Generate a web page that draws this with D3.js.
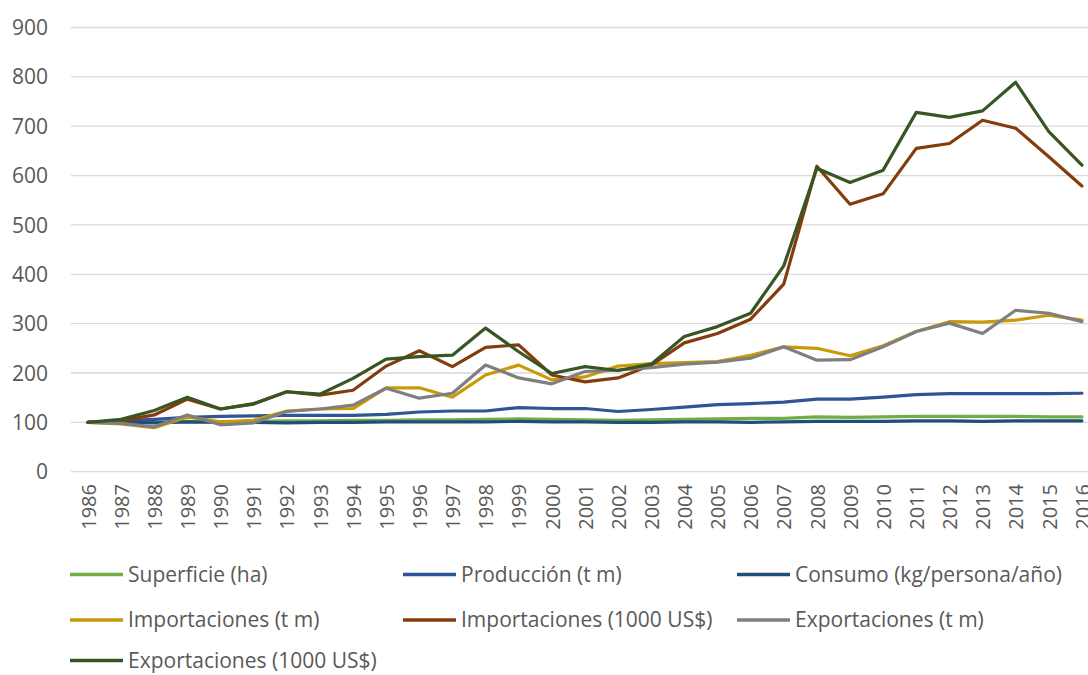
<!DOCTYPE html>
<html>
<head>
<meta charset="utf-8">
<script src="https://cdn.jsdelivr.net/npm/d3@7"></script>
<style>
  html, body { margin: 0; padding: 0; background: #fff; }
  svg { display: block; }
  text { font-family: "Open Sans", sans-serif; fill: #595959; }
</style>
</head>
<body>
<svg id="chart" width="1088" height="675"></svg>
<script>
const years = d3.range(1986, 2017).map(String);
const yTicks = [0, 100, 200, 300, 400, 500, 600, 700, 800, 900];

const seriesNames = [
  "Superficie (ha)", "Producción (t m)", "Consumo (kg/persona/año)",
  "Importaciones (t m)", "Importaciones (1000 US$)", "Exportaciones (t m)",
  "Exportaciones (1000 US$)"
];
const seriesColors = ["#70ad47", "#2f5597", "#1f4e79", "#c99a06", "#843c0c", "#7f7f7f", "#375623"];

const superficie = [100, 101, 100, 102, 101, 102, 103, 103, 104, 104, 105, 105, 106, 107, 106, 105, 104, 105, 106, 107, 108, 108, 111, 110, 111, 112, 112, 112, 112, 111, 111];
const produccion = [100, 103, 106, 110, 112, 113, 114, 114, 114, 116, 121, 123, 123, 130, 128, 128, 122, 126, 131, 136, 138, 141, 147, 147, 151, 156, 158, 158, 158, 158, 159];
const consumo = [100, 100, 99, 101, 100, 100, 99, 100, 100, 101, 101, 101, 101, 102, 101, 101, 100, 100, 101, 101, 100, 101, 102, 102, 102, 103, 103, 102, 103, 103, 103];
const importTm = [100, 97, 89, 111, 101, 104, 123, 127, 128, 170, 170, 151, 196, 216, 186, 192, 214, 219, 221, 223, 236, 253, 250, 235, 255, 284, 304, 303, 307, 317, 307];
const importUsd = [100, 103, 115, 147, 127, 138, 162, 155, 165, 214, 245, 213, 252, 257, 196, 182, 190, 216, 261, 280, 309, 380, 619, 542, 563, 655, 665, 712, 696, 638, 579];
const exportTm = [100, 98, 91, 115, 95, 99, 122, 127, 135, 169, 149, 159, 216, 190, 178, 203, 206, 211, 218, 222, 230, 253, 226, 227, 253, 284, 301, 280, 327, 321, 304];
const exportUsd = [100, 106, 124, 151, 127, 137, 162, 157, 189, 228, 233, 236, 291, 243, 199, 213, 205, 218, 274, 294, 321, 417, 615, 586, 611, 728, 718, 731, 789, 689, 621];

const seriesValues = [superficie, produccion, consumo, importTm, importUsd, exportTm, exportUsd];

const svg = d3.select("#chart");

const x = d3.scalePoint().domain(years).range([71.4, 1098.5]).padding(0.5);
const y = d3.scaleLinear().domain([0, 900]).range([471.7, 27.5]);

// gridlines
svg.append("g")
  .selectAll("line")
  .data(yTicks)
  .join("line")
  .attr("x1", 71).attr("x2", 1100)
  .attr("y1", d => y(d)).attr("y2", d => y(d))
  .attr("stroke", "#d9d9d9").attr("stroke-width", 1.3);

// y axis labels
const yAxis = d3.axisLeft(y).tickValues(yTicks).tickSize(0).tickPadding(0);
const gy = svg.append("g").attr("transform", "translate(48,0)").call(yAxis);
gy.select(".domain").remove();
gy.selectAll("text")
  .attr("font-size", 21).attr("font-family", "Open Sans, sans-serif")
  .attr("fill", "#595959").attr("dy", "0.34em");

// x axis labels (rotated)
const xAxis = d3.axisBottom(x).tickSize(0).tickPadding(0);
const gx = svg.append("g").attr("transform", "translate(0,484)").call(xAxis);
gx.select(".domain").remove();
gx.selectAll("text")
  .attr("font-size", 20).attr("font-family", "Open Sans, sans-serif")
  .attr("fill", "#595959")
  .attr("text-anchor", "end")
  .attr("transform", "rotate(-90)")
  .attr("x", 0).attr("y", 0).attr("dy", "0.36em");

// lines
const line = d3.line()
  .x((d, i) => x(years[i]))
  .y(d => y(d));

svg.append("g")
  .selectAll("path")
  .data(seriesValues)
  .join("path")
  .attr("d", d => line(d))
  .attr("fill", "none")
  .attr("stroke", (d, i) => seriesColors[i])
  .attr("stroke-width", 3.2)
  .attr("stroke-linejoin", "round")
  .attr("stroke-linecap", "round");

// legend
const legend = svg.append("g");
const colX = [70, 403, 737];
const rowY = [574.5, 620, 660.5];
seriesNames.forEach((name, i) => {
  const gx0 = colX[i % 3];
  const gy0 = rowY[Math.floor(i / 3)];
  const g = legend.append("g").attr("transform", `translate(${gx0},${gy0})`);
  g.append("line").attr("x1", 0).attr("x2", 53).attr("y1", 0).attr("y2", 0)
    .attr("stroke", seriesColors[i]).attr("stroke-width", 3.5);
  g.append("text").attr("x", 58).attr("y", 0).attr("dy", "0.35em")
    .attr("font-size", 21).text(name);
});
</script>
</body>
</html>
